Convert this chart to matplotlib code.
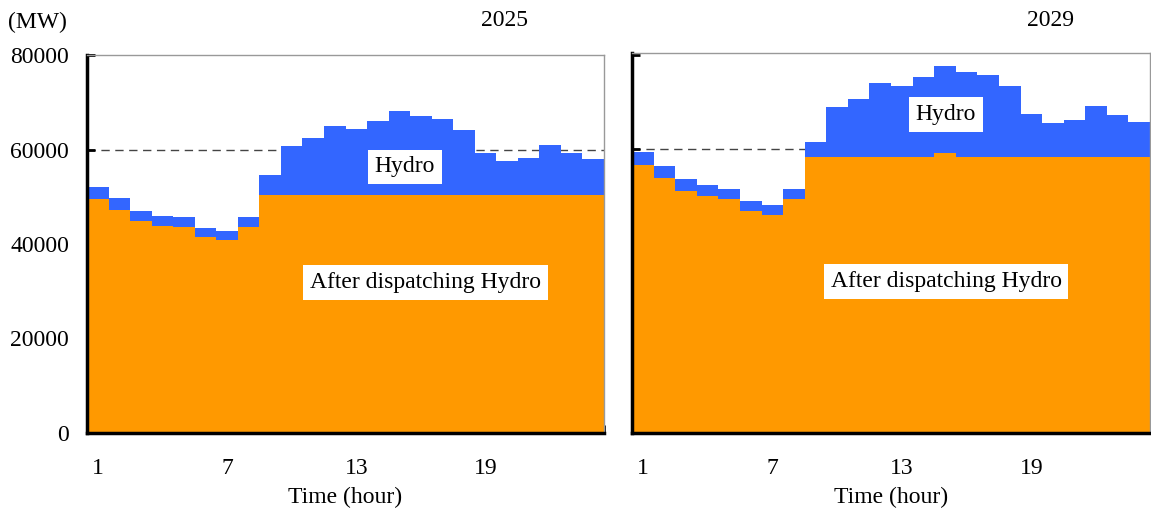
import numpy as np
import matplotlib
matplotlib.use('Agg')
import matplotlib.pyplot as plt

plt.rcParams['font.family'] = ['Liberation Serif', 'DejaVu Serif']

hours = np.arange(1, 25)

# 2025: load before hydro (total) and after dispatching hydro, MW
total_2025 = [52000, 49750, 47000, 45950, 45750, 43400, 42800, 45750, 54700, 60800, 62500, 65000,
              64350, 66050, 68150, 67100, 66450, 64150, 59350, 57600, 58200, 60950, 59350, 58000]
after_2025 = [49550, 47250, 44900, 43850, 43650, 41500, 40900, 43650, 50400, 50400, 50400, 50400,
              50400, 50400, 50400, 50400, 50400, 50400, 50400, 50400, 50400, 50400, 50400, 50400]

# 2029
total_2029 = [59500, 56550, 53800, 52550, 51700, 49000, 48150, 51700, 61600, 68950, 70600, 74000,
              73350, 75250, 77550, 76300, 75850, 73350, 67450, 65600, 66200, 69150, 67250, 65800]
after_2029 = [56750, 54050, 51100, 50050, 49600, 46900, 46050, 49600, 58500, 58500, 58500, 58500,
              58500, 58300, 59300, 58500, 58300, 58500, 58300, 58500, 58500, 58300, 58500, 58300]

years = ['2025', '2029']
orange = '#FF9900'
blue = '#3366FF'
fs = 17

fig = plt.figure(figsize=(11.51, 5.08), dpi=100)
ax1 = fig.add_axes([87/1151, 1-433/508, 517/1151, 378/508])
ax2 = fig.add_axes([632/1151, 1-433/508, 518/1151, 380/508])

panels = [(ax1, total_2025, after_2025, 15.25, 56300, 16.2, 31900),
          (ax2, total_2029, after_2029, 15.05, 67400, 15.05, 32000)]

for i, (ax, tot, aft, hx, hy, ax_x, ax_y) in enumerate(panels):
    tot = np.array(tot)
    aft = np.array(aft)
    ax.axhline(60000, color='#444444', lw=1, ls=(0, (6, 4)), zorder=1)
    ax.bar(hours, aft, width=1.0, color=orange, lw=0, zorder=2)
    ax.bar(hours, tot - aft, bottom=aft, width=1.0, color=blue, lw=0, zorder=2)
    ax.set_xlim(0.5, 24.5)
    ax.set_ylim(0, 80000 if i == 0 else 80400)
    ax.set_yticks([0, 20000, 40000, 60000, 80000])
    ax.set_xticks([1, 7, 13, 19])
    ax.set_xticks(np.arange(0.5, 25, 2), minor=True)
    ax.tick_params(axis='x', which='major', length=0, labelsize=fs, pad=18)
    ax.tick_params(axis='x', which='minor', direction='in', length=6, width=2)
    ax.tick_params(axis='y', direction='in', length=6, width=2, labelsize=fs, pad=13)
    for s in ['left', 'bottom']:
        ax.spines[s].set_linewidth(2.5)
        ax.spines[s].set_color('black')
    for s in ['top', 'right']:
        ax.spines[s].set_linewidth(1)
        ax.spines[s].set_color('#999999')
    ax.text(hx, hy, 'Hydro', fontsize=fs, ha='center', va='center', zorder=5,
            bbox=dict(facecolor='white', edgecolor='none', pad=5))
    ax.text(ax_x, ax_y, 'After dispatching Hydro', fontsize=fs, ha='center', va='center', zorder=5,
            bbox=dict(facecolor='white', edgecolor='none', pad=5))
    ax.set_xlabel('Time (hour)', fontsize=fs, labelpad=6)

ax2.tick_params(axis='y', labelleft=False)

fig.text(8/1151, 1-22/508, '(MW)', fontsize=fs, ha='left', va='center')
fig.text(505/1151, 1-20/508, years[0], fontsize=fs, ha='center', va='center')
fig.text(1051/1151, 1-20/508, years[1], fontsize=fs, ha='center', va='center')

fig.savefig('out.png', dpi=100)
